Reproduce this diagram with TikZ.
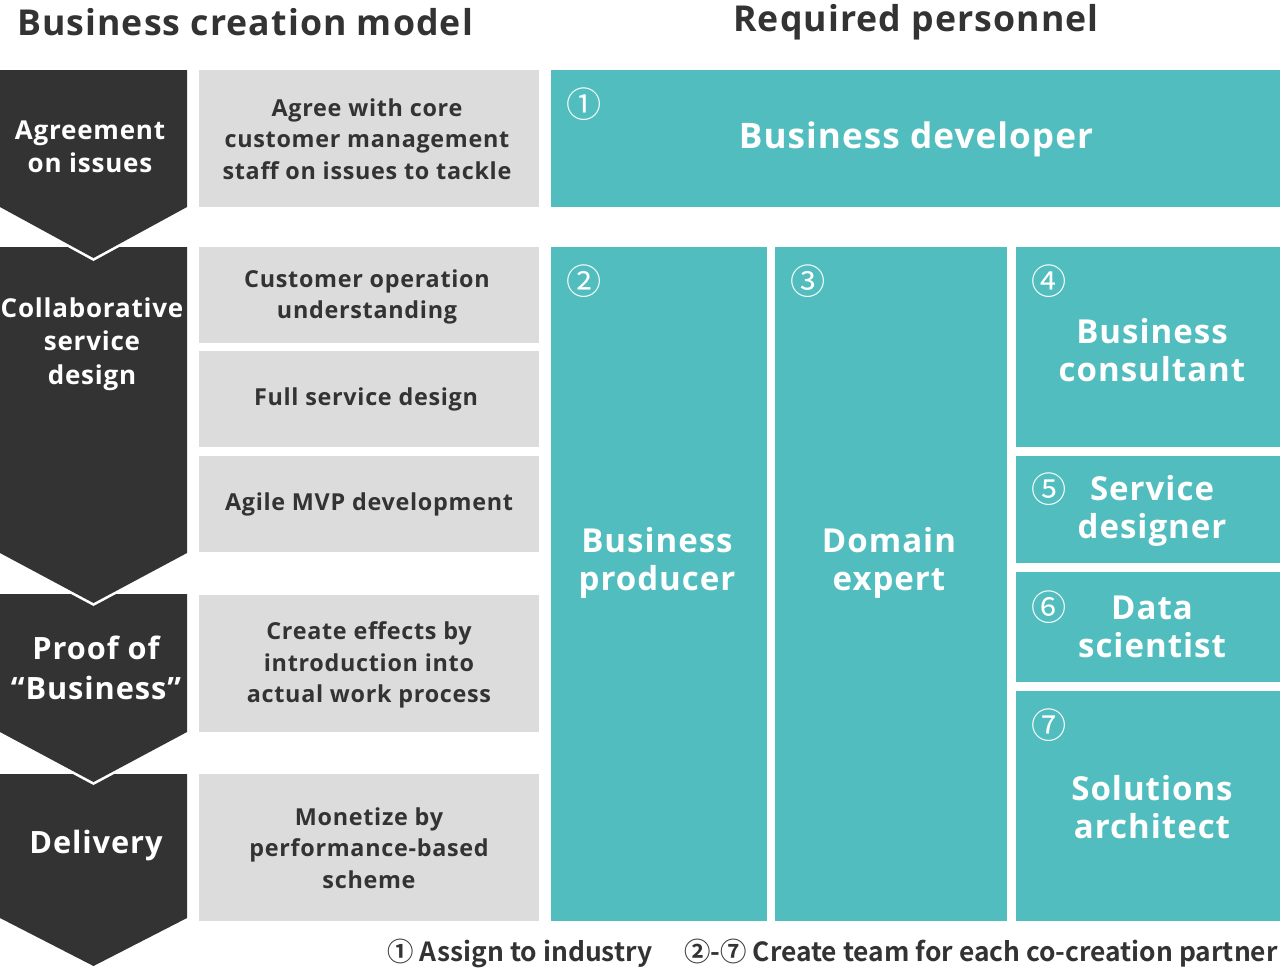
\documentclass[tikz,border=0pt]{standalone}
\usepackage{fontspec}
\setmainfont{Open Sans}[LetterSpace=3]
\newfontfamily\numfont{Noto Sans CJK JP}
\newfontfamily\notefont{Noto Sans CJK JP}[BoldFont={Noto Sans CJK JP Bold}]
\usepackage{tikz}
\usetikzlibrary{positioning, fit, calc}
\usepackage{xcolor}
\definecolor{ink}{HTML}{333333}
\definecolor{tealbg}{HTML}{52BDBE}
\definecolor{paleGray}{HTML}{DCDCDC}

\tikzset{
  title/.style={font=\fontsize{20.3}{24}\selectfont\bfseries, text=ink},
  chev/.style={fill=ink, preaction={draw=white, line width=3pt, line join=miter}},
  stage/.style={text=white, align=center, font=\fontsize{14.8}{19}\selectfont\bfseries},
  bigstage/.style={stage, font=\fontsize{17.5}{22.7}\selectfont\bfseries},
  workbox/.style={fill=paleGray, inner sep=0pt},
  worktext/.style={align=center, text=ink, font=\fontsize{13.3}{18}\selectfont\bfseries},
  rolebox/.style={fill=tealbg, inner sep=0pt},
  roletext/.style={text=white, align=center, font=\fontsize{18.8}{22}\selectfont\bfseries},
  numtag/.style={text=white, inner sep=0pt, font=\fontsize{20}{20}\numfont},
  note/.style={text=ink, font=\fontsize{15}{17}\notefont\bfseries}
}

\begin{document}
\begin{tikzpicture}[x=0.02cm, y=-0.02cm]
  \useasboundingbox (0,0) rectangle (1280,971);

  % headings
  \node[title] (hdmodel) at (245,22) {Business creation model};
  \node[title] (hdstaff) at (916,22) {Required personnel};

  % stage arrows, bottom one first so each tip lies over the next
  \path[chev] (0,774) -- (187,774) -- (187,918) -- (93.5,966) -- (0,918) -- cycle;
  \path[chev] (0,594) -- (187,594) -- (187,732) -- (93.5,782) -- (0,732) -- cycle;
  \path[chev] (0,247) -- (187,247) -- (187,553) -- (93.5,603) -- (0,553) -- cycle;
  \path[chev] (0,70) -- (187,70) -- (187,207) -- (93.5,258) -- (0,207) -- cycle;

  \node[stage] (sagree) at (90,147) {Agreement\\on issues};
  \node[stage] (scollab) at (92,344) {Collaborative\\service\\design};
  \node[bigstage] (sproof) at (96,668) {Proof of\\``Business''};
  \node[bigstage] (sdeliver) at (96,845) {Delivery};

  % work items
  \node[workbox, fit={(199,70) (539,207)}] (wagree) {};
  \node[workbox, fit={(199,247) (539,343)}] (woper) {};
  \node[workbox, fit={(199,351) (539,447)}] (wdesign) {};
  \node[workbox, fit={(199,456) (539,552)}] (wmvp) {};
  \node[workbox, fit={(199,595) (539,732)}] (weffect) {};
  \node[workbox, fit={(199,774) (539,921)}] (wmoney) {};

  \node[worktext] (tagree) at (367,139) {Agree with core\\customer management\\staff on issues to tackle};
  \node[worktext] (toper) at (367,297) {Customer operation\\understanding};
  \node[worktext] (tdesign) at (366,399) {Full service design};
  \node[worktext] (tmvp) at (369,504) {Agile MVP development};
  \node[worktext] (teffect) at (369,665) {Create effects by\\introduction into\\actual work process};
  \node[worktext] (tmoney) at (369,848) {Monetize by\\performance-based\\scheme};

  % personnel
  \node[rolebox, fit={(551,70) (1280,207)}] (rdev) {};
  \node[rolebox, fit={(551,247) (767,921)}] (rprod) {};
  \node[rolebox, fit={(775,247) (1007,921)}] (rdomain) {};
  \node[rolebox, fit={(1016,247) (1280,447)}] (rcons) {};
  \node[rolebox, fit={(1016,456) (1280,563)}] (rserv) {};
  \node[rolebox, fit={(1016,572) (1280,682)}] (rdata) {};
  \node[rolebox, fit={(1016,691) (1280,921)}] (rarch) {};

  \node[numtag] (ndev) at (584,104) {①};
  \node[numtag] (nprod) at (584,281) {②};
  \node[numtag] (ndomain) at (808,281) {③};
  \node[numtag] (ncons) at (1049,281) {④};
  \node[numtag] (nserv) at (1049,489) {⑤};
  \node[numtag] (ndata) at (1049,607) {⑥};
  \node[numtag] (narch) at (1049,725) {⑦};

  \node[roletext, font=\fontsize{20}{22}\selectfont\bfseries] (tdev) at (916,139) {Business developer};
  \node[roletext] (tprod) at (657,563) {Business\\producer};
  \node[roletext] (tdomain) at (889,563) {Domain\\expert};
  \node[roletext] (tcons) at (1152,350) {Business\\consultant};
  \node[roletext] (tserv) at (1152,511) {Service\\designer};
  \node[roletext] (tdata) at (1152,627) {Data\\scientist};
  \node[roletext] (tarch) at (1152,807) {Solutions\\architect};

  % legend
  \node[note] (legdev) at (520,953) {① Assign to industry};
  \node[note] (legteam) at (981,953) {②-⑦ Create team for each co-creation partner};
\end{tikzpicture}
\end{document}
